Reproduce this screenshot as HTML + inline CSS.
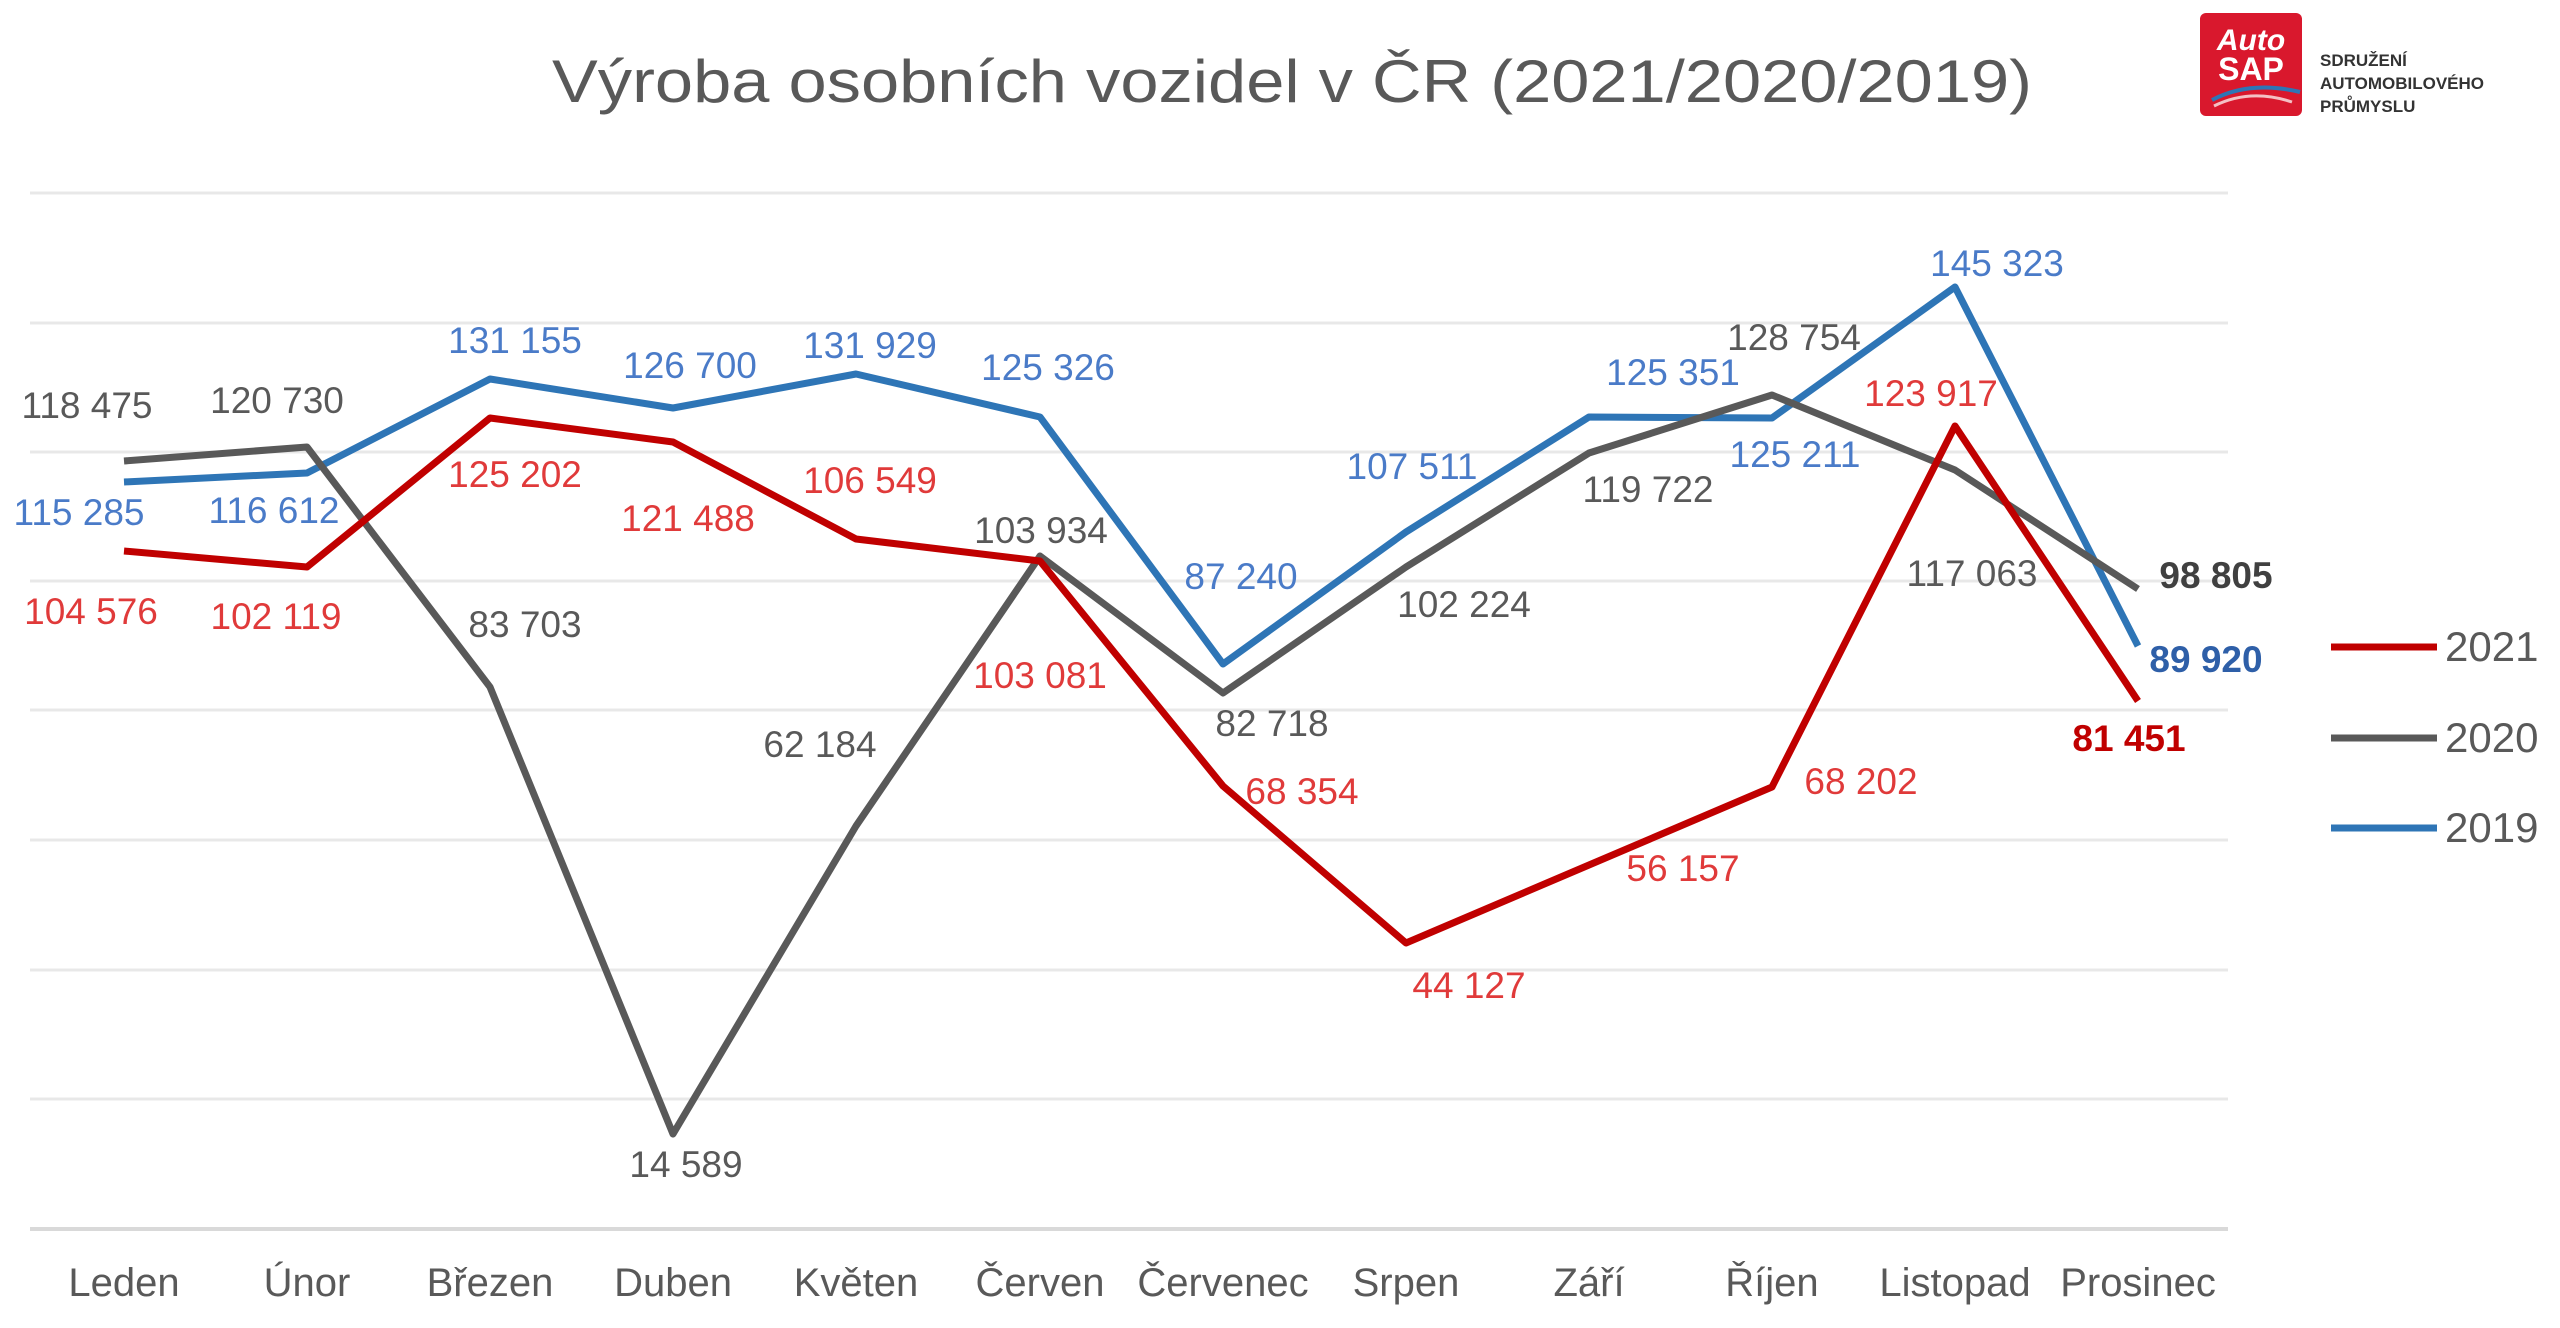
<!DOCTYPE html>
<html><head><meta charset="utf-8"><style>
html,body{margin:0;padding:0;background:#fff}
svg{display:block}
text{font-family:"Liberation Sans Narrow","Liberation Sans",sans-serif}
</style></head><body>
<svg width="2560" height="1328" viewBox="0 0 2560 1328" xmlns="http://www.w3.org/2000/svg">
<rect width="2560" height="1328" fill="#fff"/>
<text x="1292" y="102" font-size="60" fill="#595959" text-anchor="middle" textLength="1480" lengthAdjust="spacingAndGlyphs">Výroba osobních vozidel v ČR (2021/2020/2019)</text>
<!-- logo -->
<rect x="2200" y="13" width="102" height="103" rx="6" fill="#d9182d"/>
<text x="2251" y="50" font-size="30" font-weight="bold" fill="#fff" text-anchor="middle" font-style="italic">Auto</text>
<text x="2251" y="80" font-size="32" font-weight="bold" fill="#fff" text-anchor="middle">SAP</text>
<path d="M2212 100 Q2250 80 2300 92" stroke="#2e75b6" stroke-width="4" fill="none"/>
<path d="M2214 106 Q2250 88 2292 102" stroke="#f4c0c4" stroke-width="3" fill="none"/>
<g font-size="17" font-weight="bold" fill="#333">
<text x="2320" y="66">SDRUŽENÍ</text>
<text x="2320" y="89">AUTOMOBILOVÉHO</text>
<text x="2320" y="112">PRŮMYSLU</text>
</g>
<!-- grid -->
<g stroke="#e8e8e8" stroke-width="3">
<line x1="30" y1="193" x2="2228" y2="193"/><line x1="30" y1="323" x2="2228" y2="323"/>
<line x1="30" y1="452" x2="2228" y2="452"/><line x1="30" y1="581" x2="2228" y2="581"/>
<line x1="30" y1="710" x2="2228" y2="710"/><line x1="30" y1="840" x2="2228" y2="840"/>
<line x1="30" y1="970" x2="2228" y2="970"/><line x1="30" y1="1099" x2="2228" y2="1099"/>
</g>
<line x1="30" y1="1229" x2="2228" y2="1229" stroke="#d9d9d9" stroke-width="4"/>
<!-- series -->
<g fill="none" stroke-width="7" stroke-linejoin="round">
<polyline stroke="#2e75b6" points="124,482 307,473 490,379 673,408 856,374 1040,417 1223,664 1406,532 1589,417 1772,418 1955,287 2138,646"/>
<polyline stroke="#595959" points="124,461 307,447 490,687 673,1134 856,826 1040,556 1223,693 1406,567 1589,453 1772,395 1955,470 2138,589"/>
<polyline stroke="#c00000" points="124,551 307,567 490,418 673,442 856,539 1040,561 1223,786 1406,943 1589,865 1772,787 1955,426 2138,701"/>
</g>
<!-- labels -->
<g font-size="37" text-anchor="middle" dominant-baseline="middle">
<g fill="#e03a3a">
<text x="91" y="614">104 576</text><text x="276" y="619">102 119</text><text x="515" y="477">125 202</text>
<text x="688" y="521">121 488</text><text x="870" y="483">106 549</text><text x="1040" y="678">103 081</text>
<text x="1302" y="794">68 354</text><text x="1469" y="988">44 127</text><text x="1683" y="871">56 157</text>
<text x="1861" y="784">68 202</text><text x="1931" y="396">123 917</text>
<text x="2129" y="741" font-weight="bold" fill="#c00000">81 451</text>
</g>
<g fill="#595959">
<text x="87" y="408">118 475</text><text x="277" y="403">120 730</text><text x="525" y="627">83 703</text>
<text x="686" y="1167">14 589</text><text x="820" y="747">62 184</text><text x="1041" y="533">103 934</text>
<text x="1272" y="726">82 718</text><text x="1464" y="607">102 224</text><text x="1648" y="492">119 722</text>
<text x="1794" y="340">128 754</text><text x="1972" y="576">117 063</text>
<text x="2216" y="578" font-weight="bold" fill="#404040">98 805</text>
</g>
<g fill="#4a7bc8">
<text x="79" y="515">115 285</text><text x="274" y="513">116 612</text><text x="515" y="343">131 155</text>
<text x="690" y="368">126 700</text><text x="870" y="348">131 929</text><text x="1048" y="370">125 326</text>
<text x="1241" y="579">87 240</text><text x="1412" y="469">107 511</text><text x="1673" y="375">125 351</text>
<text x="1795" y="457">125 211</text><text x="1997" y="266">145 323</text>
<text x="2206" y="662" font-weight="bold" fill="#2e5fa8">89 920</text>
</g>
</g>
<!-- categories -->
<g font-size="40" fill="#595959" text-anchor="middle">
<text x="124" y="1296">Leden</text><text x="307" y="1296">Únor</text><text x="490" y="1296">Březen</text>
<text x="673" y="1296">Duben</text><text x="856" y="1296">Květen</text><text x="1040" y="1296">Červen</text>
<text x="1223" y="1296">Červenec</text><text x="1406" y="1296">Srpen</text><text x="1589" y="1296">Září</text>
<text x="1772" y="1296">Říjen</text><text x="1955" y="1296">Listopad</text><text x="2138" y="1296">Prosinec</text>
</g>
<!-- legend -->
<g stroke-width="7">
<line x1="2331" y1="647" x2="2437" y2="647" stroke="#c00000"/>
<line x1="2331" y1="738" x2="2437" y2="738" stroke="#595959"/>
<line x1="2331" y1="828" x2="2437" y2="828" stroke="#2e75b6"/>
</g>
<g font-size="42" fill="#595959">
<text x="2445" y="661">2021</text><text x="2445" y="752">2020</text><text x="2445" y="842">2019</text>
</g>
</svg>
</body></html>
